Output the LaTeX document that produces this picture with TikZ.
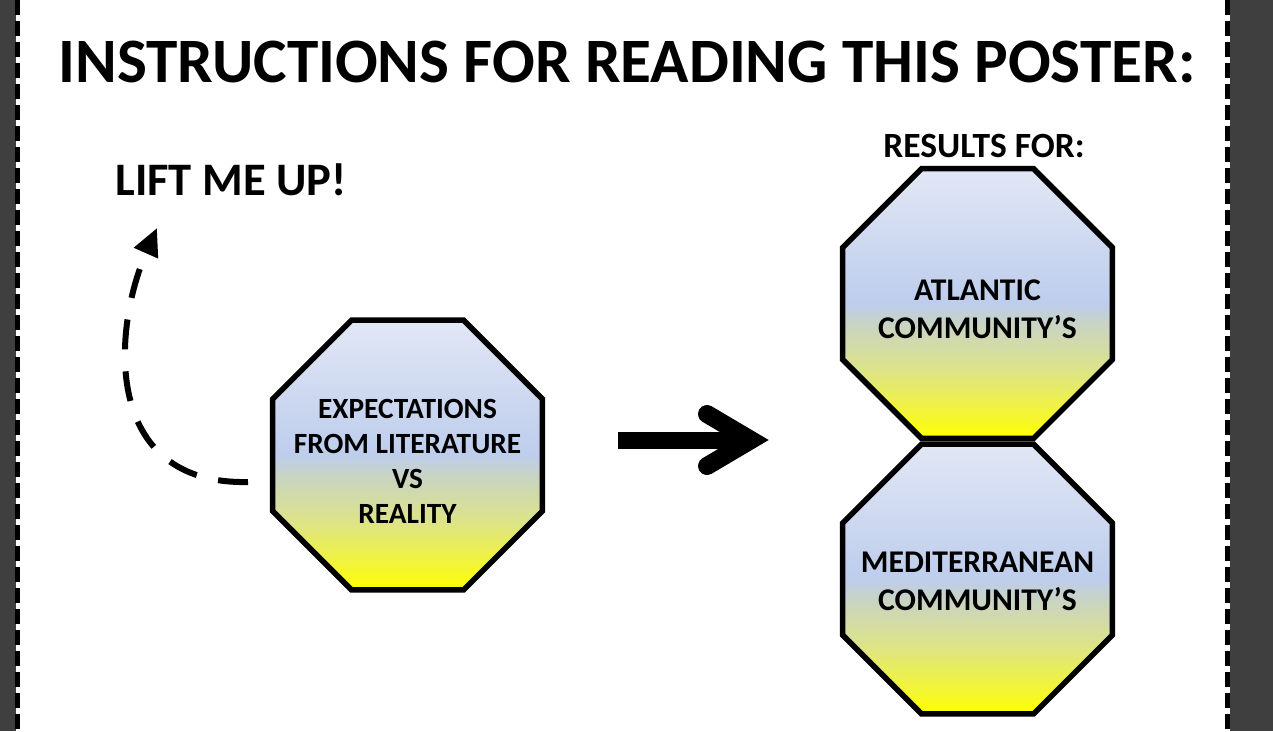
\documentclass[tikz,border=0pt]{standalone}
\usepackage{fontspec}
\setmainfont{Carlito}
\usepackage{xcolor}
\usetikzlibrary{shapes.geometric,arrows.meta,positioning,calc}
\definecolor{bandgray}{HTML}{3F3F3F}
\definecolor{octotop}{RGB}{226,231,245}
\definecolor{octoblue}{RGB}{189,205,236}
\definecolor{octosage}{RGB}{201,212,194}
\definecolor{octolime}{RGB}{220,227,138}
\definecolor{octolemon}{RGB}{242,244,58}
\definecolor{octoyellow}{RGB}{255,255,0}

\pgfdeclareverticalshading{octofill}{100bp}{%
  color(0bp)=(octoyellow); color(25bp)=(octoyellow);
  color(30bp)=(octolemon); color(38bp)=(octolime);
  color(46bp)=(octosage); color(50bp)=(octoblue);
  color(75bp)=(octotop); color(100bp)=(octotop)}

\tikzset{
  octo/.style={regular polygon, regular polygon sides=8, minimum size=5.845cm,
    inner sep=0pt, draw=black, line width=0.11cm, shading=octofill},
  octolabel/.style={align=center, font=\bfseries\fontsize{16.7}{19.9}\selectfont},
  reslabel/.style={align=center, font=\bfseries\fontsize{18}{21.6}\selectfont},
  heading/.style={anchor=base, font=\bfseries\fontsize{36}{40}\selectfont},
  subheading/.style={anchor=base, font=\bfseries\fontsize{#1}{#1}\selectfont},
  edgeline/.style={line width=0.1cm, dash pattern=on 0.3cm off 0.12cm},
  liftarrow/.style={line width=0.12cm, dash pattern=on 0.6cm off 0.44cm,
    -{Triangle[length=0.55cm, width=0.5cm]}},
  pushshaft/.style={line width=0.34cm},
  pushhead/.style={line width=0.36cm, line cap=round, line join=miter}
}

\begin{document}
\begin{tikzpicture}[x=0.02cm, y=-0.02cm]
    \useasboundingbox (0,0) rectangle (1273,731);

    % dark margins with the cut line of the sheet
    \fill[bandgray] (0,0) rectangle (15.5,731);
    \fill[bandgray] (1229.5,0) rectangle (1273,731);
    \draw[edgeline] (17.5,0) -- (17.5,731);
    \draw[edgeline] (1227.5,0) -- (1227.5,731);

    \node[heading] (title) at (627,82) {INSTRUCTIONS FOR READING THIS POSTER:};
    \node[subheading=26.5] (lift) at (231,195) {LIFT ME UP!};
    \node[subheading=20.2] (results) at (984,157) {RESULTS FOR:};

    \node[octo] (expect) at (407.5,455) {};
    \node[octolabel] (expect text) at (407.5,461.5)
        {EXPECTATIONS\\FROM LITERATURE\\VS\\REALITY};

    \node[octo] (atlantic) at (977.5,303.5) {};
    \node[octo, below=0pt of atlantic] (med) {};
    \node[reslabel] (atlantic text) at ($(atlantic)+(0,5.5)$) {ATLANTIC\\COMMUNITY’S};
    \node[reslabel] (med text) at ($(med)+(0,2.5)$) {MEDITERRANEAN\\COMMUNITY’S};

    \coordinate (lift tail) at (248,482);
    \coordinate (lift tip) at (157,228);
    \draw[liftarrow] (lift tail) .. controls (102,485) and (112,330) .. (lift tip);

    \coordinate (push tail) at (618,440);
    \coordinate (push tip) at (768,440);
    \draw[pushshaft] (push tail) -- ($(push tip)+(-24,0)$);
    \draw[pushhead] ($(push tip)+(-61,-26)$) -- ($(push tip)+(-17,0)$) -- ($(push tip)+(-61,26)$);
\end{tikzpicture}
\end{document}
